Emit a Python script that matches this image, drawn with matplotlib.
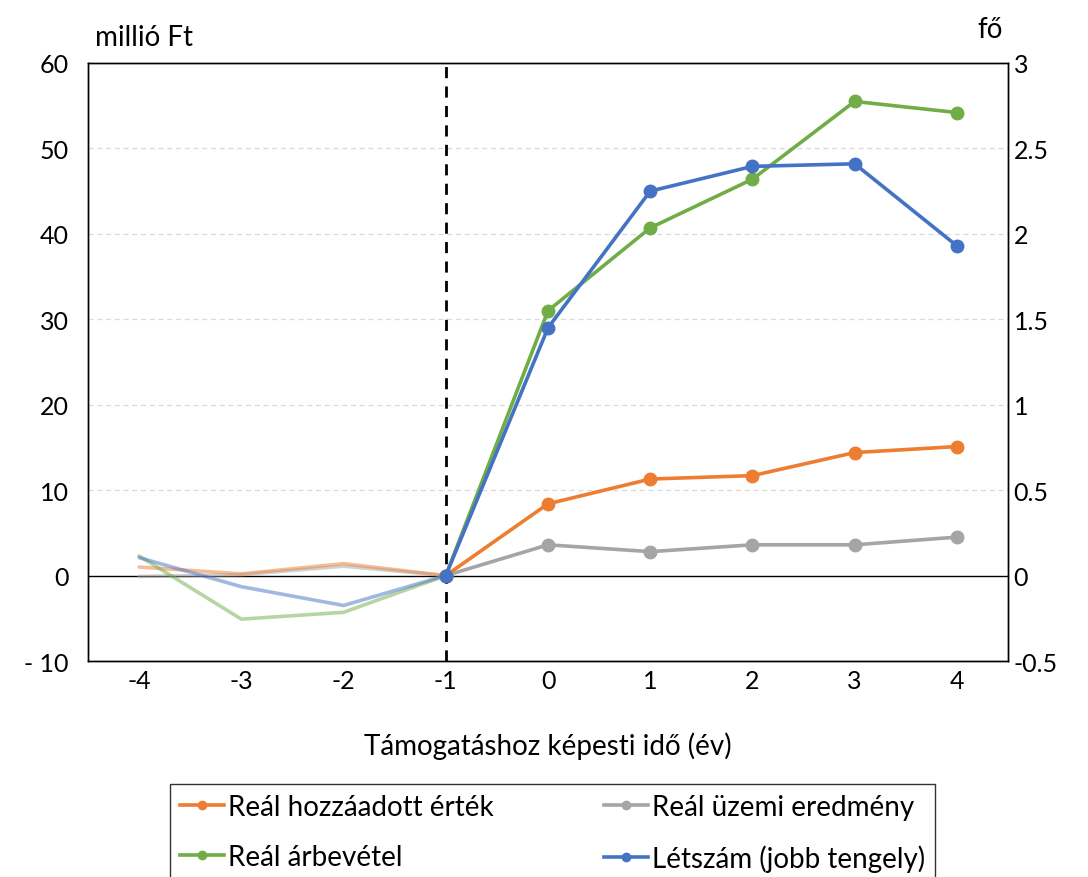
import numpy as np
import matplotlib.pyplot as plt
from matplotlib.lines import Line2D

plt.rcParams['font.family'] = ['Lato', 'DejaVu Sans']

# data
years = [-4, -3, -2, -1, 0, 1, 2, 3, 4]
hozzaadott = [1.0, 0.2, 1.4, 0.0, 8.4, 11.3, 11.7, 14.4, 15.1]
uzemi = [-0.1, 0.1, 1.1, 0.0, 3.6, 2.8, 3.6, 3.6, 4.5]
arbevetel = [2.3, -5.1, -4.3, 0.0, 31.0, 40.7, 46.4, 55.5, 54.2]
letszam = [0.105, -0.065, -0.175, 0.0, 1.45, 2.25, 2.395, 2.41, 1.93]

left_ticks = [-10, 0, 10, 20, 30, 40, 50, 60]
left_labels = ['- 10', '0', '10', '20', '30', '40', '50', '60']
right_ticks = [-0.5, 0, 0.5, 1, 1.5, 2, 2.5, 3]
right_labels = ['-0.5', '0', '0.5', '1', '1.5', '2', '2.5', '3']

c_or = '#ED7D31'
c_gr = '#A5A5A5'
c_gn = '#70AD47'
c_bl = '#4472C4'

fig = plt.figure(figsize=(10.88, 8.78), dpi=100)
ax = fig.add_axes([88/1088, 1-662/878, 920/1088, 598/878])
ax2 = ax.twinx()

x = np.arange(len(years))
pre = slice(0, 4)
post = slice(3, 9)

for a, y, c in [(ax, uzemi, c_gr), (ax, hozzaadott, c_or), (ax, arbevetel, c_gn), (ax2, letszam, c_bl)]:
    y = np.array(y)
    a.plot(x[pre], y[pre], color=c, lw=2.6, alpha=0.5, solid_capstyle='round', zorder=3)
    a.plot(x[post], y[post], color=c, lw=2.6, marker='o', ms=9, zorder=4)

ax.set_xlim(-0.5, len(years) - 0.5)
ax.set_ylim(-10, 60)
ax2.set_ylim(-0.5, 3)

ax.set_yticks(left_ticks)
ax.set_yticklabels(left_labels)
ax2.set_yticks(right_ticks)
ax2.set_yticklabels(right_labels)
ax.set_xticks(x)
ax.set_xticklabels([str(v) for v in years])

for v in [10, 20, 30, 40, 50]:
    ax.axhline(v, color='#D9D9D9', lw=0.9, ls=(0, (4, 3)), zorder=1)
ax.axhline(0, color='black', lw=1.0, zorder=2)
ax.axvline(3, color='black', lw=2.0, ls=(0, (4, 3)), zorder=5)

ax.tick_params(axis='y', length=0, labelsize=18, pad=14)
ax2.tick_params(axis='y', length=0, labelsize=18, pad=4)
ax.tick_params(axis='x', length=0, labelsize=18, pad=6)
for a in (ax, ax2):
    for s in a.spines.values():
        s.set_color('black')
        s.set_linewidth(1.0)

ax.set_xlabel('Támogatáshoz képesti idő (év)', fontsize=20, labelpad=28)
fig.text(95/1088, 1-38/878, 'millió Ft', fontsize=20, va='center', ha='left')
fig.text(1003/1088, 1-30/878, 'fő', fontsize=20, va='center', ha='right')

handles = [Line2D([], [], color=c_or, lw=2.6, marker='o', ms=6),
           Line2D([], [], color=c_gn, lw=2.6, marker='o', ms=6),
           Line2D([], [], color=c_gr, lw=2.6, marker='o', ms=6),
           Line2D([], [], color=c_bl, lw=2.6, marker='o', ms=6)]
labels = ['Reál hozzáadott érték', 'Reál árbevétel', 'Reál üzemi eredmény', 'Létszám (jobb tengely)']
leg = fig.legend(handles, labels, ncol=2, loc='upper left',
                 bbox_to_anchor=(170/1088, 0, 765/1088, 93/878), mode='expand',
                 borderaxespad=0,
                 fontsize=20, frameon=True, fancybox=False, edgecolor='black',
                 handlelength=1.6, handletextpad=0.15, columnspacing=2.0,
                 borderpad=0.35, labelspacing=0.88)
leg.get_frame().set_linewidth(1.0)

fig.savefig('out.png', dpi=100)
